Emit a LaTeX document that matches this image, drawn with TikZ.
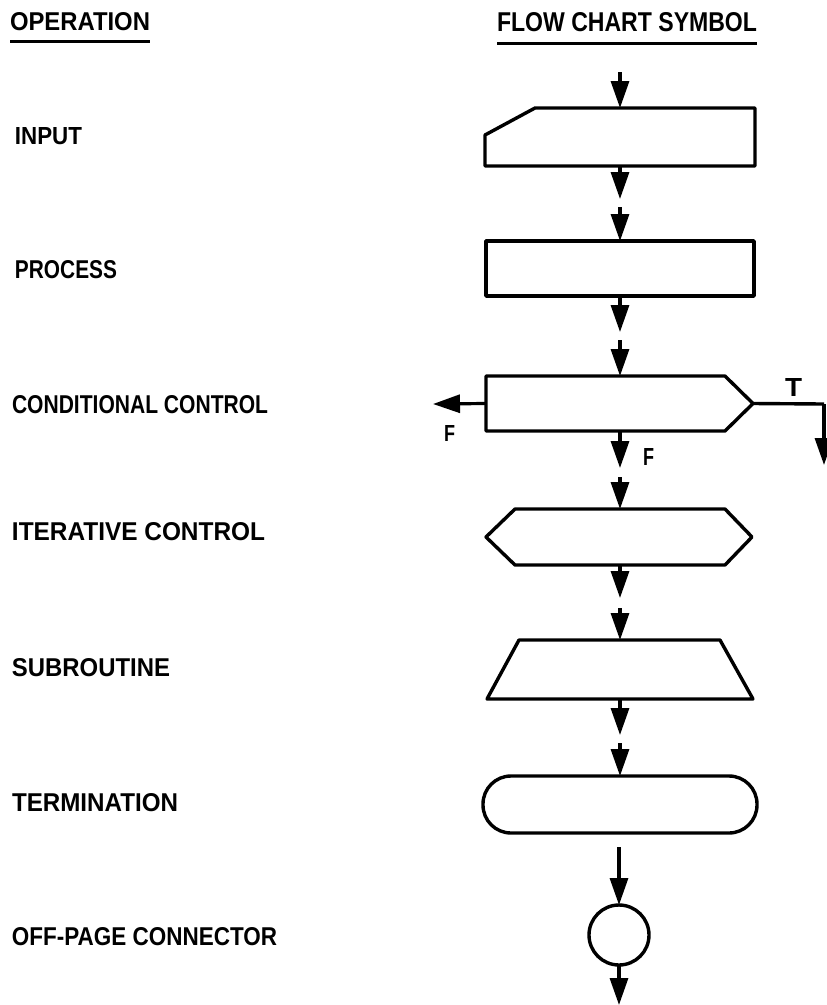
\documentclass[tikz,border=0pt]{standalone}
\usepackage{fontspec}
\setmainfont{Liberation Sans}
\usetikzlibrary{arrows.meta}
\newcommand{\lbl}[3]{\resizebox{#1pt}{#2pt}{\bfseries #3}}
\begin{document}
\begin{tikzpicture}[x=1pt,y=-1pt,
  ln/.style={line width=3.4pt, line join=round},
  arr/.style={line width=3.2pt, -{Triangle[length=27pt,width=18pt]}},
  box/.style={draw=none, inner sep=0pt, outer sep=0pt},
  txt/.style={inner sep=0pt, outer sep=0pt, anchor=north west}]
\fill[white] (0,0) rectangle (827,1005);
\useasboundingbox (0,0) rectangle (827,1005);

% headers
\node[txt] (h1) at (10,12) {\lbl{140}{18}{OPERATION}};
\node[txt] (h2) at (497,12) {\lbl{260}{19}{FLOW CHART SYMBOL}};
\draw[line width=3pt] (h1.south west |- 0,41) -- (h1.south east |- 0,41);
\draw[line width=3pt] (h2.south west |- 0,43) -- (h2.south east |- 0,43);

% operation labels
\node[txt] (l1) at (15,127) {\lbl{67}{17}{INPUT}};
\node[txt] (l2) at (15,260) {\lbl{102}{18}{PROCESS}};
\node[txt] (l3) at (12,395) {\lbl{256}{18}{CONDITIONAL CONTROL}};
\node[txt] (l4) at (12,522) {\lbl{253}{18}{ITERATIVE CONTROL}};
\node[txt] (l5) at (12,658) {\lbl{158}{18}{SUBROUTINE}};
\node[txt] (l6) at (12,793) {\lbl{166}{18}{TERMINATION}};
\node[txt] (l7) at (12,927) {\lbl{265}{18}{OFF-PAGE CONNECTOR}};

% symbol frames (invisible nodes, outlines drawn from their anchors)
\node[box, minimum width=270pt, minimum height=58pt] (inp) at (620,137) {};
\node[box, minimum width=268pt, minimum height=55pt] (proc) at (620,268.5) {};
\node[box, minimum width=267pt, minimum height=55pt] (cond) at (619.5,403.5) {};
\node[box, minimum width=266pt, minimum height=56pt] (iter) at (619,537) {};
\node[box, minimum width=266pt, minimum height=59pt] (sub) at (620,669.5) {};
\node[box, draw, ln, rounded corners=28pt, minimum width=274pt, minimum height=57pt] (term) at (620,804.5) {};
\node[box, draw, ln, circle, minimum size=60pt] (conn) at (619,935) {};

% input
\draw[ln] (inp.south west) -- (inp.south east) -- (inp.north east)
  -- ([xshift=50pt]inp.north west) -- ([yshift=-27pt]inp.north west) -- cycle;
% process
\draw[ln] (proc.south west) rectangle (proc.north east);
% conditional
\draw[ln] (cond.north west) -- ([xshift=-28pt]cond.north east) -- (cond.east)
  -- ([xshift=-28pt]cond.south east) -- (cond.south west) -- cycle;
% iterative
\draw[ln] (iter.west) -- ([xshift=29pt]iter.north west) -- ([xshift=-27pt]iter.north east)
  -- (iter.east) -- ([xshift=-27pt]iter.south east) -- ([xshift=29pt]iter.south west) -- cycle;
% subroutine
\draw[ln] ([xshift=32pt]sub.north west) -- ([xshift=-33pt]sub.north east)
  -- (sub.south east) -- (sub.south west) -- cycle;

% connector end points
\coordinate (s0) at (620,72);
\coordinate (e1) at (620,199);  \coordinate (s1) at (620,207);
\coordinate (e2) at (620,332);  \coordinate (s2) at (620,340);
\coordinate (e3) at (620,468);  \coordinate (s3) at (620,477);
\coordinate (e4) at (620,598);  \coordinate (s4) at (620,608);
\coordinate (e5) at (620,735);  \coordinate (s5) at (620,743);
\coordinate (s6) at (619,847);
\coordinate (e7) at (619,1005);
\coordinate (fl) at (433,404);
\coordinate (tc) at (824,404);
\coordinate (te) at (824,465);

% connectors
\draw[arr] (s0) -- (inp.north -| s0);
\draw[arr] (inp.south -| e1) -- (e1);
\draw[arr] (s1) -- (proc.north -| s1);
\draw[arr] (proc.south -| e2) -- (e2);
\draw[arr] (s2) -- (cond.north -| s2);
\draw[arr] (cond.south -| e3) -- (e3);
\draw[arr] (s3) -- (iter.north -| s3);
\draw[arr] (iter.south -| e4) -- (e4);
\draw[arr] (s4) -- (sub.north -| s4);
\draw[arr] (sub.south -| e5) -- (e5);
\draw[arr] (s5) -- (term.north -| s5);
\draw[arr] (s6) -- (conn.north);
\draw[arr] (conn.south) -- (e7);
\draw[arr] (cond.west) -- (fl);
\draw[ln] (cond.east) -- (tc);
\draw[arr] (tc) -- (te);

% branch labels
\node[txt] (tT) at (785,378) {\lbl{17}{18}{T}};
\node[txt] (tF1) at (444,425) {\lbl{11}{16}{F}};
\node[txt] (tF2) at (643,448) {\lbl{11}{17}{F}};
\end{tikzpicture}
\end{document}
